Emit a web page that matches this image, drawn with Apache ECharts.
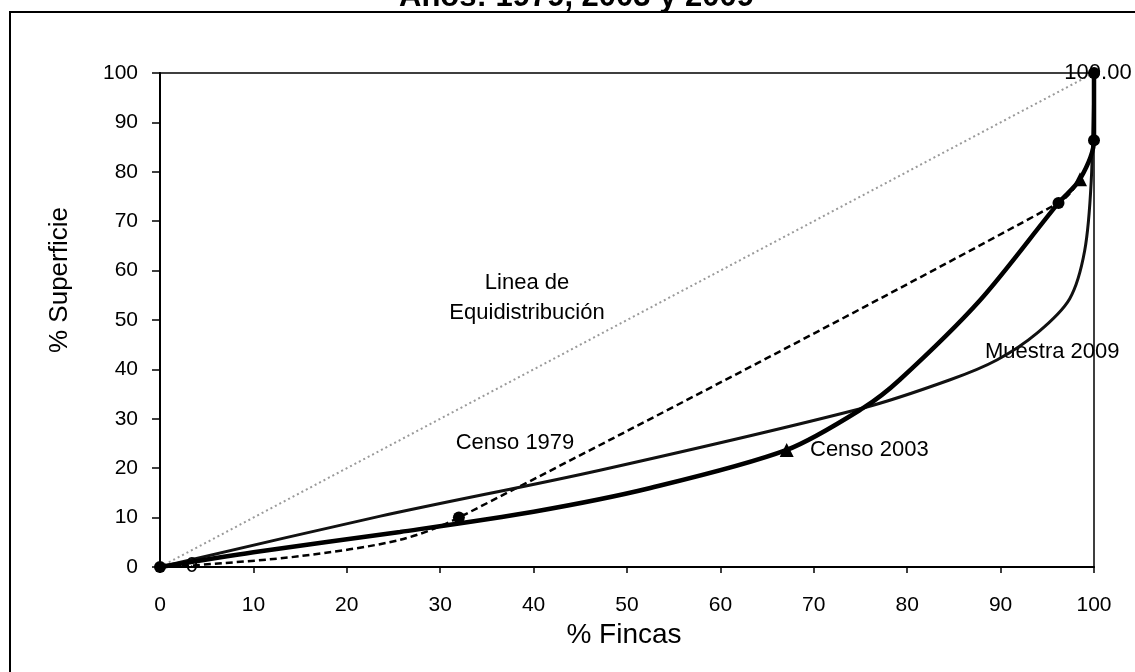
<!DOCTYPE html>
<html>
<head>
<meta charset="utf-8">
<script src="https://cdn.jsdelivr.net/npm/echarts@6/dist/echarts.min.js"></script>
<style>
html,body{margin:0;padding:0;background:#fff;}
#chart{width:1135px;height:672px;}
</style>
</head>
<body>
<div id="chart"></div>
<script>
// ---- data ----
const titleText = 'Años: 1979, 2003 y 2009';
const xTicks = [0, 10, 20, 30, 40, 50, 60, 70, 80, 90, 100];
const yTicks = [0, 10, 20, 30, 40, 50, 60, 70, 80, 90, 100];

const equiX = [0, 100];
const equiY = [0, 100];

const censo1979X = [0, 3.4, 15, 25.7, 32, 96.2, 98.5, 100, 100];
const censo1979Y = [0, 0.3, 2.2, 5.5, 10, 73.7, 78.5, 86.4, 100];
const censo1979Marked = [0, 4, 5, 7, 8];

const censo2003X = [0, 10, 25.7, 40, 52.5, 67.1, 75.3, 79.2, 87.8, 96.2, 98.5, 100, 100];
const censo2003Y = [0, 3, 7.1, 11.2, 16, 23.7, 32.2, 37.9, 54, 73.7, 78.5, 86.4, 100];
const censo2003Marked = [5, 10];

const muestra2009X = [0, 23.6, 47.1, 75.3, 84.6, 89.6, 94, 97.4, 99, 99.7, 100];
const muestra2009Y = [0, 10.3, 19.6, 32.2, 37.9, 41.9, 47.5, 54.3, 64, 78, 100];

const pointLabels = { '0': [3.4, 0.3], '100.00': [100, 100] };

// ---- build ----
const FONT = '"Liberation Sans", Arial, sans-serif';
function pts(xs, ys, marked, sym, size) {
  return xs.map((x, i) => {
    const o = { value: [x, ys[i]] };
    if (marked && marked.indexOf(i) >= 0) { o.symbol = sym; o.symbolSize = size; }
    else { o.symbol = 'none'; }
    return o;
  });
}
const d1979 = pts(censo1979X, censo1979Y, censo1979Marked, 'circle', 12);
Object.keys(pointLabels).forEach(txt => {
  const p = pointLabels[txt];
  const item = d1979.find(d => d.value[0] === p[0] && d.value[1] === p[1]);
  if (item) {
    if (item.symbol === 'none') { item.symbol = 'circle'; item.symbolSize = 1; }
    item.label = { show: true, formatter: txt, position: 'inside', offset: txt === '0' ? [0, 0] : [4, 0],
      fontSize: 22, color: '#000', fontFamily: FONT };
  }
});

const chart = echarts.init(document.getElementById('chart'), null, { renderer: 'canvas' });
chart.setOption({
  backgroundColor: '#fff',
  animation: false,
  title: {
    text: titleText, left: 394, top: -23,
    textStyle: { fontSize: 31, fontWeight: 'bold', color: '#000', fontFamily: FONT }
  },
  grid: { left: 160, right: 41, top: 73, bottom: 105, show: true, borderColor: '#000', borderWidth: 1.5, backgroundColor: 'transparent' },
  xAxis: {
    type: 'value', min: xTicks[0], max: xTicks[xTicks.length - 1], interval: 10,
    name: '% Fincas', nameLocation: 'middle', nameGap: 48,
    nameTextStyle: { fontSize: 28, color: '#000', fontFamily: FONT, padding: [0, 6, 0, 0] },
    axisLine: { lineStyle: { color: '#000', width: 2 } },
    axisTick: { length: 6, lineStyle: { color: '#000', width: 1.5 } },
    axisLabel: { margin: 28, fontSize: 21, color: '#000', fontFamily: FONT },
    splitLine: { show: false }
  },
  yAxis: {
    type: 'value', min: yTicks[0], max: yTicks[yTicks.length - 1], interval: 10,
    axisLine: { show: true, lineStyle: { color: '#000', width: 2 } },
    axisTick: { show: true, length: 8, lineStyle: { color: '#000', width: 1.5 } },
    axisLabel: { margin: 22, fontSize: 21, color: '#000', fontFamily: FONT },
    splitLine: { show: false }
  },
  graphic: [
    { type: 'rect', z: -10, shape: { x: 10, y: 12, width: 1140, height: 700 }, style: { fill: 'none', stroke: '#000', lineWidth: 2 } },
    { type: 'text', rotation: Math.PI / 2, x: 60, y: 280, style: { text: '% Superficie', font: '26px ' + FONT, fill: '#000', align: 'center', verticalAlign: 'middle' } },
    { type: 'text', x: 527, y: 283, style: { text: 'Linea de', font: '22px ' + FONT, fill: '#000', align: 'center', verticalAlign: 'middle' } },
    { type: 'text', x: 527, y: 313, style: { text: 'Equidistribución', font: '22px ' + FONT, fill: '#000', align: 'center', verticalAlign: 'middle' } },
    { type: 'text', x: 515, y: 443, style: { text: 'Censo 1979', font: '22px ' + FONT, fill: '#000', align: 'center', verticalAlign: 'middle' } },
    { type: 'text', x: 810, y: 450, style: { text: 'Censo 2003', font: '22px ' + FONT, fill: '#000', align: 'left', verticalAlign: 'middle' } },
    { type: 'text', x: 985, y: 352, style: { text: 'Muestra 2009', font: '22px ' + FONT, fill: '#000', align: 'left', verticalAlign: 'middle' } }
  ],
  series: [
    { name: 'Linea de Equidistribución', type: 'line', symbol: 'none',
      data: equiX.map((x, i) => [x, equiY[i]]),
      lineStyle: { color: '#9a9a9a', width: 2, type: [2, 3] } },
    { name: 'Censo 1979', type: 'line', smooth: 0.3, data: d1979,
      itemStyle: { color: '#000' },
      lineStyle: { color: '#000', width: 2.5, type: [7, 4] } },
    { name: 'Muestra 2009', type: 'line', smooth: 0.3,
      data: pts(muestra2009X, muestra2009Y, null),
      lineStyle: { color: '#111', width: 3 } },
    { name: 'Censo 2003', type: 'line', smooth: 0.3,
      data: pts(censo2003X, censo2003Y, censo2003Marked, 'triangle', 14),
      itemStyle: { color: '#000' },
      lineStyle: { color: '#000', width: 4.5 } }
  ]
});
</script>
</body>
</html>
